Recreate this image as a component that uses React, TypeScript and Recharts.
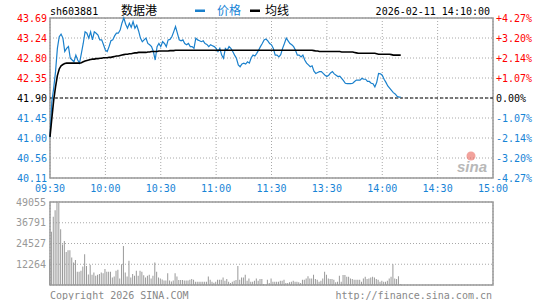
import React from 'react';
import {
  ComposedChart,
  Line,
  Bar,
  XAxis,
  YAxis,
  CartesianGrid,
  ReferenceLine,
  ReferenceArea,
} from 'recharts';

const MONO = '"DejaVu Sans Mono", "Liberation Mono", monospace';
const CJK = '"Noto Sans CJK SC", sans-serif';
const RED = '#ff0000';
const BLUE = '#1784d6';
const LINE_BLUE = '#1a80cc';
const GRAY = '#999999';

// minute index: 0 = 09:30, 120 = 11:30 / 13:00, 240 = 15:00
const timeTicks = [0, 30, 60, 90, 120, 150, 180, 210, 240];
const timeLabels = ['09:30', '10:00', '10:30', '11:00', '11:30', '13:30', '14:00', '14:30', '15:00'];

const prevClose = 41.9;
const priceTicks = [40.11, 40.5575, 41.005, 41.4525, 41.9, 42.3475, 42.795, 43.2425, 43.69];
const priceLabels = ['40.11', '40.56', '41.00', '41.45', '41.90', '42.35', '42.80', '43.24', '43.69'];
const pctLabels = ['-4.27%', '-3.20%', '-2.14%', '-1.07%', '0.00%', '+1.07%', '+2.14%', '+3.20%', '+4.27%'];

const volTicks = [0, 12264, 24527, 36791, 49055];
const volLabels = ['', '12264', '24527', '36791', '49055'];

const price = [
  41.02, 41.82, 42.12, 42.49, 43.01, 43.27, 43.33, 43.24, 42.94, 43.01,
  43.05, 42.79, 42.75, 42.71, 42.86, 42.75, 42.68, 42.90, 43.12, 43.38,
  43.35, 43.24, 43.38, 43.20, 43.38, 43.35, 43.31, 43.20, 43.20, 43.09,
  42.97, 42.94, 43.05, 43.18, 43.20, 43.29, 43.35, 43.35, 43.42, 43.58,
  43.69, 43.55, 43.46, 43.57, 43.48, 43.61, 43.46, 43.53, 43.40, 43.24,
  43.16, 43.20, 43.24, 43.12, 43.09, 43.05, 42.94, 42.75, 43.05, 43.12,
  43.05, 43.16, 43.12, 43.05, 43.20, 43.21, 43.27, 43.38, 43.50, 43.35,
  43.20, 43.18, 43.20, 43.12, 43.09, 43.12, 43.05, 43.05, 43.01, 43.24,
  43.20, 43.18, 43.16, 43.18, 43.12, 43.10, 43.05, 43.09, 43.07, 43.05,
  43.01, 42.94, 43.01, 42.86, 42.79, 43.01, 42.97, 43.05, 43.01, 42.94,
  42.86, 42.79, 42.64, 42.60, 42.66, 42.68, 42.66, 42.71, 42.68, 42.80,
  42.86, 42.84, 42.90, 42.97, 43.05, 43.12, 43.20, 43.22, 43.18, 43.12,
  43.09, 43.01, 42.86, 42.86, 42.82, 42.87, 43.01, 43.12, 43.24, 43.18,
  43.12, 43.09, 43.05, 42.97, 42.86, 42.86, 42.82, 42.86, 42.75, 42.68,
  42.64, 42.60, 42.62, 42.50, 42.45, 42.47, 42.49, 42.49, 42.45, 42.41,
  42.38, 42.41, 42.46, 42.49, 42.44, 42.41, 42.38, 42.39, 42.34, 42.29,
  42.23, 42.22, 42.22, 42.22, 42.23, 42.27, 42.30, 42.30, 42.30, 42.34,
  42.32, 42.32, 42.27, 42.27, 42.23, 42.22, 42.15, 42.25, 42.45, 42.44,
  42.41, 42.32, 42.25, 42.17, 42.12, 42.07, 42.02, 41.99, 41.94, 41.92,
  41.92,
];

const avgPrice = [
  41.03, 41.45, 41.85, 42.15, 42.40, 42.55, 42.62, 42.65, 42.67, 42.68,
  42.68, 42.68, 42.68, 42.68, 42.68, 42.68, 42.68, 42.69, 42.71, 42.73,
  42.74, 42.75, 42.76, 42.77, 42.77, 42.78, 42.78, 42.79, 42.79, 42.80,
  42.80, 42.80, 42.81, 42.81, 42.82, 42.83, 42.84, 42.84, 42.85, 42.86,
  42.87, 42.88, 42.88, 42.89, 42.89, 42.90, 42.91, 42.91, 42.92, 42.92,
  42.92, 42.92, 42.92, 42.93, 42.93, 42.94, 42.94, 42.94, 42.94, 42.95,
  42.95, 42.95, 42.95, 42.95, 42.95, 42.96, 42.96, 42.96, 42.97, 42.97,
  42.97, 42.97, 42.97, 42.97, 42.97, 42.97, 42.97, 42.97, 42.97, 42.97,
  42.97, 42.97, 42.97, 42.97, 42.97, 42.97, 42.97, 42.97, 42.97, 42.97,
  42.97, 42.97, 42.97, 42.97, 42.97, 42.97, 42.97, 42.97, 42.97, 42.97,
  42.97, 42.97, 42.97, 42.97, 42.97, 42.97, 42.97, 42.97, 42.97, 42.97,
  42.97, 42.97, 42.97, 42.97, 42.97, 42.97, 42.97, 42.97, 42.97, 42.97,
  42.97, 42.97, 42.97, 42.97, 42.97, 42.97, 42.97, 42.97, 42.97, 42.97,
  42.97, 42.97, 42.97, 42.97, 42.97, 42.97, 42.97, 42.97, 42.97, 42.97,
  42.97, 42.97, 42.97, 42.96, 42.95, 42.95, 42.94, 42.94, 42.94, 42.94,
  42.94, 42.94, 42.94, 42.94, 42.94, 42.94, 42.94, 42.94, 42.93, 42.93,
  42.93, 42.93, 42.93, 42.93, 42.93, 42.92, 42.91, 42.90, 42.90, 42.90,
  42.90, 42.90, 42.90, 42.90, 42.90, 42.90, 42.90, 42.89, 42.88, 42.88,
  42.88, 42.88, 42.88, 42.88, 42.88, 42.87, 42.86, 42.86, 42.86, 42.86,
  42.86,
];

const volume = [
  14900, 31500, 40300, 44200, 49055, 48500, 32900, 24000, 26000, 19500,
  20500, 20500, 16200, 13300, 14800, 7800, 7800, 8400, 10900, 18200,
  11300, 6200, 11900, 6100, 7400, 5500, 6000, 6500, 7400, 7000,
  9400, 7800, 7800, 7800, 4500, 5000, 8400, 9000, 3900, 12300,
  23000, 7400, 5000, 14300, 4500, 6500, 5500, 8400, 5500, 8400,
  7800, 5800, 4500, 5500, 6000, 3900, 5500, 13300, 7800, 4500,
  3900, 3200, 2600, 2600, 7000, 2600, 2000, 2600, 7000, 5000,
  2900, 2900, 2900, 2600, 2600, 2600, 3100, 3500, 3100, 1900,
  1900, 1900, 1900, 1900, 1900, 1900, 5000, 3100, 1900, 1400,
  1900, 3100, 3100, 3100, 4500, 2500, 3500, 1900, 1200, 1900,
  2500, 2900, 11300, 3100, 4500, 4500, 6000, 2500, 3900, 1900,
  1900, 2500, 3900, 2500, 3500, 3500, 600, 200, 3100, 1200,
  3900, 1900, 1900, 1900, 1900, 2500, 2500, 3100, 1200, 1200,
  1600, 1900, 2500, 1900, 1900, 1600, 1200, 3100, 3100, 3900,
  5100, 3900, 3900, 6100, 3500, 3100, 1900, 2500, 3900, 7800,
  6100, 3900, 3500, 3500, 3100, 1600, 1900, 5500, 1900, 5900,
  5900, 4900, 4900, 3900, 3500, 3100, 3100, 3100, 3100, 1900,
  3900, 4900, 3500, 3900, 4500, 4900, 4500, 3500, 3100, 1900,
  2500, 1900, 1900, 2500, 3900, 4900, 12300, 3900, 3500, 5100,
  600,
];

const priceRows = price.map((p, i) => ({ t: i, price: p, avg: avgPrice[i] }));
const volRows = volume.map((v, i) => ({ t: i, v }));

const tickColor = (i: number) => (i > 4 ? RED : i === 4 ? '#000' : BLUE);

function LeftPriceTick(props: any) {
  const { x, y, payload } = props;
  const i = priceTicks.indexOf(payload.value);
  return (
    <text x={x} y={y} dy="0.36em" textAnchor="end" fill={tickColor(i)} fontSize={10} fontFamily={MONO}>
      {priceLabels[i]}
    </text>
  );
}

function RightPctTick(props: any) {
  const { x, y, payload } = props;
  const i = priceTicks.indexOf(payload.value);
  return (
    <text x={x} y={y} dy="0.36em" textAnchor="start" fill={tickColor(i)} fontSize={10} fontFamily={MONO}>
      {pctLabels[i]}
    </text>
  );
}

function VolTick(props: any) {
  const { x, y, payload } = props;
  const i = volTicks.indexOf(payload.value);
  return (
    <text x={x} y={y} dy="0.36em" textAnchor="end" fill={GRAY} fontSize={10} fontFamily={MONO}>
      {volLabels[i]}
    </text>
  );
}

export default function App() {
  return (
    <div style={{ position: 'absolute', left: 0, top: 0, width: 545, height: 300, background: '#fff', overflow: 'hidden' }}>
      <div style={{ position: 'absolute', left: 0, top: 0 }}>
        <ComposedChart width={545} height={200} data={priceRows} margin={{ top: 18, right: 0, bottom: 0, left: 0 }}>
          <CartesianGrid stroke="#a8a8a8" strokeDasharray="1 2" />
          <XAxis
            dataKey="t"
            type="number"
            domain={[0, 240]}
            ticks={timeTicks}
            interval={0}
            height={22}
            axisLine={false}
            tickLine={false}
            tickSize={0}
            tickMargin={7}
            tickFormatter={(v: number) => timeLabels[timeTicks.indexOf(v)]}
            tick={{ fill: BLUE, fontSize: 10, fontFamily: MONO }}
          />
          <YAxis
            type="number"
            domain={[40.11, 43.69]}
            ticks={priceTicks}
            interval={0}
            width={50}
            axisLine={false}
            tickLine={false}
            tickSize={0}
            tickMargin={3}
            tick={<LeftPriceTick />}
          />
          <YAxis
            yAxisId="r"
            orientation="right"
            type="number"
            domain={[40.11, 43.69]}
            ticks={priceTicks}
            interval={0}
            width={52}
            axisLine={false}
            tickLine={false}
            tickSize={0}
            tickMargin={3}
            tick={<RightPctTick />}
          />
          <ReferenceLine y={prevClose} stroke="#000" strokeDasharray="3 2" />
          <ReferenceArea x1={0} x2={240} y1={40.11} y2={43.69} fill="none" stroke={GRAY} strokeWidth={1.5} />
          <Line
            dataKey="price"
            type="linear"
            stroke={LINE_BLUE}
            strokeWidth={1.2}
            dot={false}
            isAnimationActive={false}
          />
          <Line
            dataKey="avg"
            yAxisId="r"
            type="linear"
            stroke="#000"
            strokeWidth={1.6}
            dot={false}
            isAnimationActive={false}
          />
        </ComposedChart>
      </div>

      <div style={{ position: 'absolute', left: 0, top: 190 }}>
        <ComposedChart width={545} height={110} data={volRows} margin={{ top: 12, right: 52, bottom: 15, left: 0 }}>
          <CartesianGrid stroke="#a8a8a8" strokeDasharray="1 2" />
          <XAxis
            dataKey="t"
            type="number"
            domain={[0, 240]}
            ticks={timeTicks}
            interval={0}
            height={0}
            axisLine={false}
            tickLine={false}
            tick={false}
          />
          <YAxis
            type="number"
            domain={[0, 49055]}
            ticks={volTicks}
            interval={0}
            width={50}
            axisLine={false}
            tickLine={false}
            tickSize={0}
            tickMargin={4}
            tick={<VolTick />}
          />
          <Bar dataKey="v" fill={GRAY} barSize={1} isAnimationActive={false} />
          <ReferenceArea x1={0} x2={240} y1={0} y2={49055} fill="none" stroke={GRAY} strokeWidth={1.5} />
        </ComposedChart>
      </div>

      <svg width={545} height={300} style={{ position: 'absolute', left: 0, top: 0, pointerEvents: 'none' }}>
        <text x={50} y={15} fontSize={10} fontFamily={MONO} fill="#000">sh603881</text>
        <text x={121} y={15} fontSize={12} fontFamily={CJK} fill="#000">数据港</text>
        <rect x={195} y={9.5} width={10} height={2.5} fill={LINE_BLUE} />
        <text x={217} y={15} fontSize={12} fontFamily={CJK} fill={BLUE}>价格</text>
        <rect x={250} y={9.5} width={10} height={2.5} fill="#000" />
        <text x={265} y={15} fontSize={12} fontFamily={CJK} fill="#000">均线</text>
        <text x={490} y={15} textAnchor="end" fontSize={10} fontFamily={MONO} fill="#000">2026-02-11 14:10:00</text>

        <circle cx={471} cy={156} r={4.5} fill="#e8554a" opacity={0.55} />
        <text x={457} y={172} fontSize={15} fontStyle="italic" fontWeight="bold" fontFamily="Arial, sans-serif" fill="#b8b8b8">sina</text>

        <text x={50} y={299} fontSize={10} fontFamily={MONO} fill="#888">Copyright 2026 SINA.COM</text>
        <text x={492} y={299} textAnchor="end" fontSize={10} fontFamily={MONO} fill="#888">http://finance.sina.com.cn</text>
      </svg>
    </div>
  );
}
